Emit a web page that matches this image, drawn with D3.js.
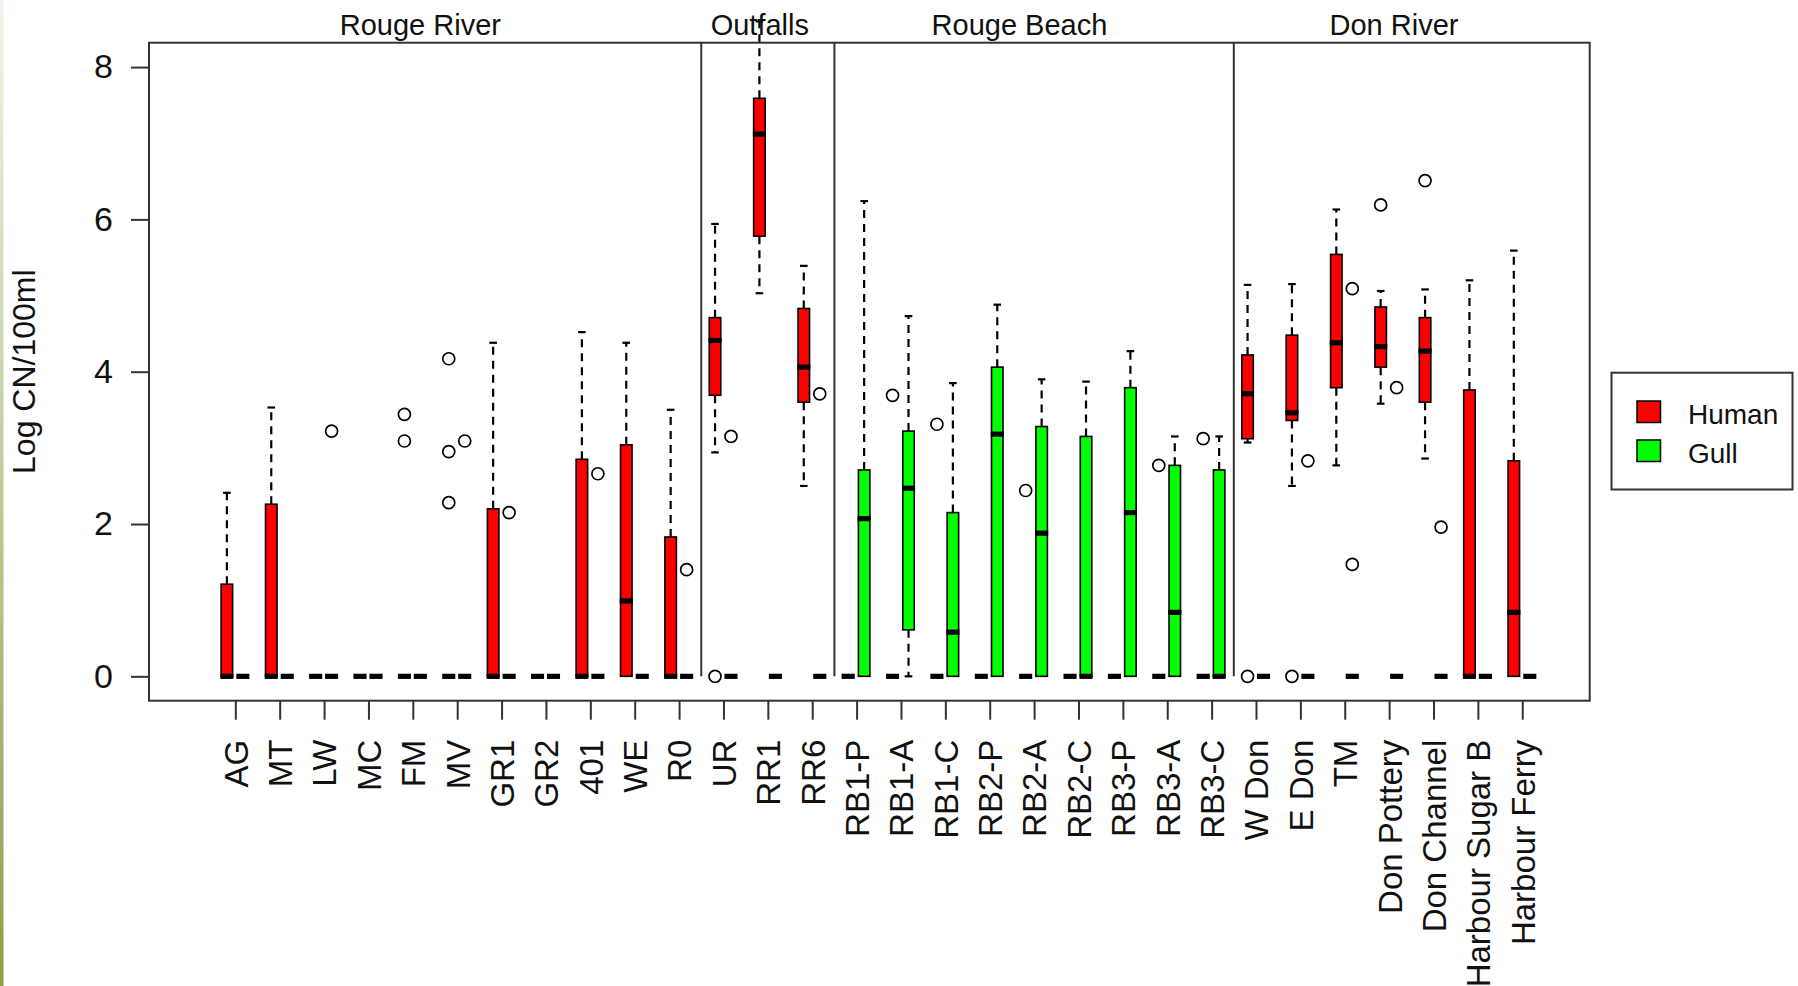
<!DOCTYPE html>
<html>
<head>
<meta charset="utf-8">
<script src="https://cdn.jsdelivr.net/npm/d3@7/dist/d3.min.js"></script>
<style>
  html, body { margin: 0; padding: 0; background: #ffffff; }
  svg { display: block; }
  text { font-family: "Liberation Sans", Arial, sans-serif; fill: #111; }
</style>
</head>
<body>
<svg id="chart" width="1798" height="986"></svg>
<script>
// ---------------- DATA ----------------
const sites = ["AG","MT","LW","MC","FM","MV","GR1","GR2","401","WE","R0",
  "UR","RR1","RR6",
  "RB1-P","RB1-A","RB1-C","RB2-P","RB2-A","RB2-C","RB3-P","RB3-A","RB3-C",
  "W Don","E Don","TM","Don Pottery","Don Channel","Harbour Sugar B","Harbour Ferry"];

// [lower whisker, Q1, median, Q3, upper whisker]
const humanStats = [
  [0,0,0,1.21,2.41],[0,0,0,2.26,3.53],[0,0,0,0,0],[0,0,0,0,0],[0,0,0,0,0],[0,0,0,0,0],
  [0,0,0,2.20,4.38],[0,0,0,0,0],[0,0,0,2.85,4.52],[0,0,0.99,3.04,4.38],[0,0,0,1.83,3.50],
  [2.94,3.69,4.41,4.71,5.94],[5.03,5.78,7.12,7.59,8.60],[2.50,3.60,4.06,4.83,5.39],
  [0,0,0,0,0],[0,0,0,0,0],[0,0,0,0,0],[0,0,0,0,0],[0,0,0,0,0],[0,0,0,0,0],[0,0,0,0,0],[0,0,0,0,0],[0,0,0,0,0],
  [3.07,3.12,3.71,4.22,5.14],[2.50,3.36,3.46,4.48,5.15],[2.77,3.79,4.38,5.54,6.13],
  [3.58,4.06,4.33,4.85,5.06],[2.86,3.60,4.27,4.71,5.08],[0,0,0,3.76,5.20],[0,0,0.84,2.83,5.59]
];
const humanOutliers = [
  [],[],[],[],[3.44,3.09],[4.17,2.95,2.28],[],[],[],[],[],
  [0],[],[],
  [],[3.69],[3.31],[],[2.44],[],[],[2.77],[3.12],
  [0],[0],[],[6.19],[6.51],[],[]
];
const gullStats = [
  [0,0,0,0,0],[0,0,0,0,0],[0,0,0,0,0],[0,0,0,0,0],[0,0,0,0,0],[0,0,0,0,0],
  [0,0,0,0,0],[0,0,0,0,0],[0,0,0,0,0],[0,0,0,0,0],[0,0,0,0,0],
  [0,0,0,0,0],[0,0,0,0,0],[0,0,0,0,0],
  [0,0,2.07,2.71,6.24],[0,0.61,2.47,3.22,4.73],[0,0,0.58,2.15,3.85],[0,0,3.18,4.06,4.88],
  [0,0,1.88,3.28,3.90],[0,0,0,3.15,3.87],[0,0,2.15,3.79,4.27],[0,0,0.84,2.77,3.15],[0,0,0,2.71,3.15],
  [0,0,0,0,0],[0,0,0,0,0],[0,0,0,0,0],[0,0,0,0,0],[0,0,0,0,0],[0,0,0,0,0],[0,0,0,0,0]
];
const gullOutliers = [
  [],[],[3.22],[],[],[3.09],[2.15],[],[2.66],[],[1.40],
  [3.15],[],[3.71],
  [],[],[],[],[],[],[],[],[],
  [],[2.83],[5.09,1.47],[3.79],[1.96],[],[]
];

const seriesNames = ["Human","Gull"];
const seriesColors = ["#ff0000","#00ff00"];
const groupNames = ["Rouge River","Outfalls","Rouge Beach","Don River"];
const groupTitleAt = [5.17, 12.82, 18.67, 27.11];   // site-index units
const groupSeparators = [11.5, 14.5, 23.5];          // site-index units
const yTicks = [0,2,4,6,8];
const yLabel = "Log CN/100ml";

// ---------------- LAYOUT ----------------
const svg = d3.select("#chart");
const plot = {left: 149, right: 1589.7, top: 42.7, bottom: 700.7};

const x = d3.scaleLinear().domain([-0.945, 31.52]).range([plot.left, plot.right]);
const y = d3.scaleLinear().domain([-0.32, 8.32]).range([plot.bottom, plot.top]);

// decorative slide stripe at the left edge
const defs = svg.append("defs");
const grad = defs.append("linearGradient").attr("id","stripe").attr("x1",0).attr("y1",0).attr("x2",0).attr("y2",1);
grad.append("stop").attr("offset","0%").attr("stop-color","#f1f4ea");
grad.append("stop").attr("offset","100%").attr("stop-color","#8c9f48");
svg.append("rect").attr("x",0).attr("y",0).attr("width",3.5).attr("height",986).attr("fill","url(#stripe)");

const boxW = 11.5;
const offsets = [-0.19, 0.17];
const allStats = [humanStats, gullStats];
const allOut = [humanOutliers, gullOutliers];

const gBoxes = svg.append("g");
allStats.forEach((stats, s) => {
  stats.forEach((st, i) => {
    const cx = x(i + 1 + offsets[s]);
    const [lo, q1, med, q3, hi] = st;
    const g = gBoxes.append("g");
    // whiskers
    const whisk = (from, to) => {
      if (from === to) return;
      g.append("line").attr("x1",cx).attr("x2",cx).attr("y1",y(from)).attr("y2",y(to))
        .attr("stroke","#000").attr("stroke-width",2.2).attr("stroke-dasharray","8,6");
      g.append("line").attr("x1",cx-3.8).attr("x2",cx+3.8).attr("y1",y(to)).attr("y2",y(to))
        .attr("stroke","#000").attr("stroke-width",2.2);
    };
    whisk(q3, hi);
    whisk(q1, lo);
    // box
    g.append("rect").attr("x",cx-boxW/2).attr("width",boxW)
      .attr("y",y(q3)).attr("height",Math.max(0,y(q1)-y(q3)))
      .attr("fill",seriesColors[s]).attr("stroke","#000").attr("stroke-width",1.6);
    // median
    g.append("line").attr("x1",cx-boxW/2-0.8).attr("x2",cx+boxW/2+0.8)
      .attr("y1",y(med)).attr("y2",y(med)).attr("stroke","#000").attr("stroke-width",5.2);
    // outliers
    allOut[s][i].forEach(v => {
      g.append("circle").attr("cx",cx).attr("cy",y(v)).attr("r",6)
        .attr("fill","none").attr("stroke","#000").attr("stroke-width",1.7);
    });
  });
});

// group separators
svg.append("g").selectAll("line").data(groupSeparators).join("line")
  .attr("x1",d=>x(d)).attr("x2",d=>x(d)).attr("y1",y(0)).attr("y2",plot.top)
  .attr("stroke","#333").attr("stroke-width",2);

// plot frame
svg.append("rect").attr("x",plot.left).attr("y",plot.top)
  .attr("width",plot.right-plot.left).attr("height",plot.bottom-plot.top)
  .attr("fill","none").attr("stroke","#333").attr("stroke-width",2);

// y axis
const yAxis = d3.axisLeft(y).tickValues(yTicks).tickSize(18).tickPadding(18).tickFormat(d3.format("d"));
const gy = svg.append("g").attr("transform",`translate(${plot.left},0)`).call(yAxis);
gy.select(".domain").remove();
gy.selectAll(".tick line").attr("stroke","#333").attr("stroke-width",2);
gy.selectAll(".tick text").style("font-size","34px").style("font-family","Liberation Sans, Arial, sans-serif").attr("fill","#111");

// x axis
const xAxis = d3.axisBottom(x).tickValues(d3.range(1, sites.length+1)).tickSize(19).tickFormat(d => sites[d-1]);
const gx = svg.append("g").attr("transform",`translate(0,${plot.bottom})`).call(xAxis);
gx.select(".domain").remove();
gx.selectAll(".tick line").attr("stroke","#333").attr("stroke-width",2);
gx.selectAll(".tick text")
  .style("font-size","33px").style("font-family","Liberation Sans, Arial, sans-serif").attr("fill","#111")
  .attr("text-anchor","end")
  .attr("transform","translate(0,39) rotate(-90)")
  .attr("x",0).attr("y",0).attr("dy","0.36em");

// group titles
svg.append("g").selectAll("text").data(groupNames).join("text")
  .attr("x",(d,i)=>x(groupTitleAt[i])).attr("y",35)
  .attr("text-anchor","middle").style("font-size","29px").text(d=>d);

// y label
svg.append("text").attr("transform",`translate(35,${(plot.top+plot.bottom)/2}) rotate(-90)`)
  .attr("text-anchor","middle").style("font-size","32px").text(yLabel);

// legend
const lg = svg.append("g");
lg.append("rect").attr("x",1611.5).attr("y",372.7).attr("width",181).attr("height",116.8)
  .attr("fill","#fff").attr("stroke","#333").attr("stroke-width",2);
seriesNames.forEach((n, k) => {
  lg.append("rect").attr("x",1637).attr("y",401 + k*39).attr("width",23.5).attr("height",21.5)
    .attr("fill",seriesColors[k]).attr("stroke","#000").attr("stroke-width",1.5);
  lg.append("text").attr("x",1688).attr("y",424 + k*39).style("font-size","28px").text(n);
});
</script>
</body>
</html>
